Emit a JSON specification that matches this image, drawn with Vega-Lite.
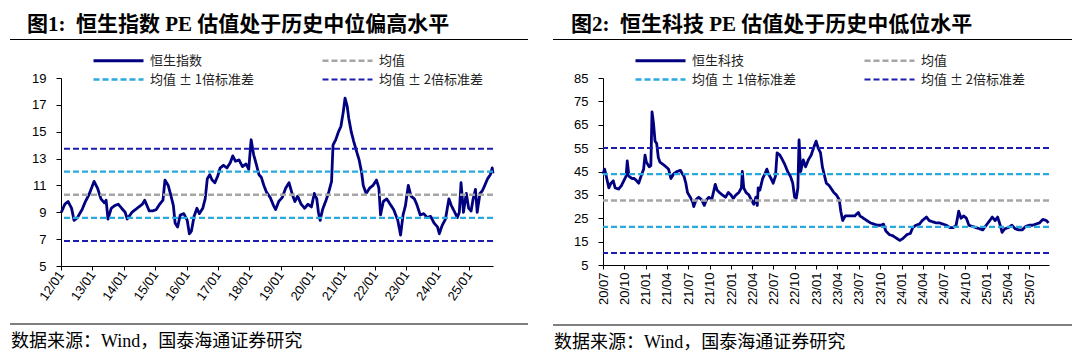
{
  "$schema": "https://vega.github.io/schema/vega-lite/v6.json",
  "background": "white",
  "padding": {"left": 9, "top": 14, "right": 2, "bottom": 2},
  "spacing": 23,
  "resolve": {"scale": {"color": "independent", "strokeDash": "independent", "strokeWidth": "independent"}, "legend": {"color": "independent", "strokeDash": "independent", "strokeWidth": "independent"}},
  "config": {
    "view": {"stroke": null},
    "font": "Noto Sans CJK SC",
    "axis": {"domainColor": "#000", "tickColor": "#000", "labelColor": "#000", "labelFont": "Liberation Sans", "labelFontSize": 13, "grid": false, "domainWidth": 1, "tickWidth": 1, "labelOverlap": false},
    "legend": {"orient": "none", "direction": "horizontal", "legendX": 51, "legendY": -24, "columns": 2, "columnPadding": 62, "rowPadding": 5, "symbolType": "M-5,0H5", "symbolSize": 100, "labelFontSize": 13, "labelFont": "Noto Sans CJK SC", "labelColor": "#222", "labelOffset": 25}
  },
  "datasets": {
    "hsi": [
      {"d":"2012-01-05","v":9.0},{"d":"2012-02-14","v":9.6},{"d":"2012-03-24","v":9.8},{"d":"2012-05-03","v":9.3},{"d":"2012-06-01","v":8.4},{"d":"2012-07-10","v":8.6},{"d":"2012-09-02","v":9.2},{"d":"2012-10-11","v":9.8},{"d":"2012-11-21","v":10.3},{"d":"2013-01-20","v":11.3},{"d":"2013-03-01","v":10.8},{"d":"2013-04-10","v":10.0},{"d":"2013-05-20","v":9.7},{"d":"2013-06-09","v":9.9},{"d":"2013-07-01","v":8.5},{"d":"2013-08-08","v":9.3},{"d":"2013-09-18","v":9.5},{"d":"2013-10-28","v":9.6},{"d":"2013-12-07","v":9.3},{"d":"2014-01-17","v":9.0},{"d":"2014-02-10","v":8.5},{"d":"2014-04-06","v":9.0},{"d":"2014-05-16","v":9.2},{"d":"2014-06-25","v":9.4},{"d":"2014-08-05","v":9.6},{"d":"2014-09-01","v":9.9},{"d":"2014-10-24","v":9.1},{"d":"2014-12-03","v":9.1},{"d":"2015-01-13","v":9.2},{"d":"2015-02-22","v":9.6},{"d":"2015-04-02","v":9.9},{"d":"2015-04-25","v":11.4},{"d":"2015-06-02","v":11.0},{"d":"2015-07-01","v":10.3},{"d":"2015-08-01","v":9.5},{"d":"2015-08-21","v":8.2},{"d":"2015-09-19","v":7.9},{"d":"2015-10-20","v":8.8},{"d":"2015-11-30","v":8.9},{"d":"2016-01-09","v":8.4},{"d":"2016-02-03","v":7.4},{"d":"2016-02-27","v":7.6},{"d":"2016-03-29","v":8.7},{"d":"2016-05-01","v":9.3},{"d":"2016-05-29","v":8.9},{"d":"2016-07-08","v":9.3},{"d":"2016-08-05","v":10.0},{"d":"2016-08-30","v":11.5},{"d":"2016-09-27","v":11.8},{"d":"2016-10-25","v":11.4},{"d":"2016-11-26","v":11.2},{"d":"2016-12-29","v":11.7},{"d":"2017-01-26","v":12.3},{"d":"2017-03-06","v":12.5},{"d":"2017-04-15","v":12.3},{"d":"2017-05-25","v":12.7},{"d":"2017-06-22","v":13.2},{"d":"2017-07-24","v":12.8},{"d":"2017-09-03","v":12.9},{"d":"2017-10-13","v":12.4},{"d":"2017-11-23","v":12.6},{"d":"2017-12-25","v":12.2},{"d":"2018-01-22","v":14.4},{"d":"2018-02-20","v":13.3},{"d":"2018-03-22","v":12.6},{"d":"2018-04-23","v":11.8},{"d":"2018-05-21","v":11.6},{"d":"2018-06-19","v":11.0},{"d":"2018-07-20","v":10.5},{"d":"2018-09-01","v":10.1},{"d":"2018-10-10","v":9.5},{"d":"2018-11-03","v":9.2},{"d":"2018-12-09","v":9.8},{"d":"2019-01-19","v":10.1},{"d":"2019-02-28","v":10.8},{"d":"2019-04-08","v":11.2},{"d":"2019-05-18","v":10.3},{"d":"2019-06-15","v":9.8},{"d":"2019-07-17","v":10.2},{"d":"2019-08-27","v":9.6},{"d":"2019-10-06","v":9.3},{"d":"2019-11-15","v":9.6},{"d":"2019-12-25","v":9.4},{"d":"2020-01-27","v":10.4},{"d":"2020-02-25","v":10.0},{"d":"2020-03-15","v":9.0},{"d":"2020-04-04","v":8.4},{"d":"2020-05-02","v":9.2},{"d":"2020-06-12","v":9.9},{"d":"2020-07-13","v":10.5},{"d":"2020-08-15","v":11.3},{"d":"2020-09-01","v":14.0},{"d":"2020-10-02","v":14.4},{"d":"2020-11-04","v":15.0},{"d":"2020-12-02","v":15.4},{"d":"2020-12-30","v":16.5},{"d":"2021-01-19","v":17.5},{"d":"2021-02-13","v":16.9},{"d":"2021-03-03","v":16.0},{"d":"2021-04-01","v":15.0},{"d":"2021-04-29","v":14.3},{"d":"2021-05-30","v":13.6},{"d":"2021-07-02","v":12.9},{"d":"2021-07-30","v":12.0},{"d":"2021-08-19","v":11.0},{"d":"2021-09-21","v":10.4},{"d":"2021-11-01","v":10.8},{"d":"2021-12-10","v":11.0},{"d":"2022-01-20","v":11.4},{"d":"2022-02-17","v":10.8},{"d":"2022-03-08","v":8.8},{"d":"2022-04-09","v":9.8},{"d":"2022-05-19","v":10.0},{"d":"2022-06-28","v":9.6},{"d":"2022-08-08","v":9.2},{"d":"2022-09-25","v":8.4},{"d":"2022-10-27","v":7.3},{"d":"2022-11-25","v":8.8},{"d":"2022-12-23","v":9.5},{"d":"2023-01-25","v":11.0},{"d":"2023-02-26","v":10.2},{"d":"2023-04-06","v":10.0},{"d":"2023-05-03","v":9.6},{"d":"2023-06-13","v":8.8},{"d":"2023-07-23","v":8.9},{"d":"2023-09-02","v":8.6},{"d":"2023-10-12","v":8.7},{"d":"2023-11-21","v":8.2},{"d":"2024-01-01","v":7.9},{"d":"2024-01-21","v":7.4},{"d":"2024-02-22","v":8.0},{"d":"2024-04-02","v":8.5},{"d":"2024-05-12","v":10.0},{"d":"2024-06-09","v":9.5},{"d":"2024-07-19","v":9.0},{"d":"2024-08-17","v":8.6},{"d":"2024-09-10","v":9.0},{"d":"2024-09-30","v":11.2},{"d":"2024-10-28","v":9.0},{"d":"2024-11-30","v":10.4},{"d":"2024-12-28","v":9.3},{"d":"2025-01-25","v":9.1},{"d":"2025-02-18","v":10.0},{"d":"2025-03-17","v":10.7},{"d":"2025-04-06","v":9.0},{"d":"2025-05-08","v":10.4},{"d":"2025-06-05","v":10.6},{"d":"2025-07-03","v":11.0},{"d":"2025-08-05","v":11.5},{"d":"2025-09-06","v":11.8},{"d":"2025-09-28","v":12.3},{"d":"2025-10-06","v":11.9}
    ],
    "hsiRefs": [
      {"series":"均值","v":10.30},{"series":"均值 ± 1倍标准差","v":12.02},{"series":"均值 ± 1倍标准差","v":8.58},{"series":"均值 ± 2倍标准差","v":13.74},{"series":"均值 ± 2倍标准差","v":6.86}
    ],
    "tech": [
      {"d":"2020-07-01","v":44},{"d":"2020-07-08","v":46},{"d":"2020-07-15","v":43},{"d":"2020-07-26","v":38},{"d":"2020-08-04","v":40},{"d":"2020-08-14","v":41},{"d":"2020-08-22","v":38},{"d":"2020-09-06","v":37.5},{"d":"2020-09-18","v":39},{"d":"2020-09-28","v":41},{"d":"2020-10-08","v":43},{"d":"2020-10-13","v":49.5},{"d":"2020-10-20","v":43},{"d":"2020-11-02","v":42},{"d":"2020-11-12","v":42},{"d":"2020-11-22","v":41},{"d":"2020-12-01","v":40},{"d":"2020-12-11","v":43},{"d":"2020-12-22","v":46},{"d":"2020-12-28","v":52},{"d":"2021-01-03","v":49},{"d":"2021-01-15","v":47},{"d":"2021-01-22","v":47.5},{"d":"2021-01-27","v":70.5},{"d":"2021-02-02","v":66},{"d":"2021-02-09","v":58},{"d":"2021-02-16","v":57},{"d":"2021-02-23","v":51},{"d":"2021-03-02","v":49},{"d":"2021-03-16","v":48},{"d":"2021-03-28","v":47},{"d":"2021-04-08","v":46},{"d":"2021-04-18","v":42},{"d":"2021-04-30","v":44},{"d":"2021-05-14","v":45},{"d":"2021-05-29","v":45.5},{"d":"2021-06-06","v":44},{"d":"2021-06-13","v":43},{"d":"2021-06-21","v":40},{"d":"2021-06-28","v":36},{"d":"2021-07-10","v":34},{"d":"2021-07-20","v":32},{"d":"2021-07-25","v":30},{"d":"2021-08-04","v":33},{"d":"2021-08-15","v":34},{"d":"2021-08-27","v":33},{"d":"2021-09-08","v":30.5},{"d":"2021-09-18","v":33},{"d":"2021-09-28","v":34},{"d":"2021-10-10","v":33},{"d":"2021-10-17","v":36},{"d":"2021-10-25","v":39.5},{"d":"2021-11-02","v":37},{"d":"2021-11-12","v":36},{"d":"2021-11-24","v":35},{"d":"2021-12-08","v":34},{"d":"2021-12-20","v":36},{"d":"2021-12-31","v":35},{"d":"2022-01-10","v":33.5},{"d":"2022-01-22","v":35},{"d":"2022-02-03","v":36},{"d":"2022-02-14","v":38},{"d":"2022-02-18","v":45},{"d":"2022-02-24","v":38},{"d":"2022-03-06","v":36},{"d":"2022-03-18","v":35},{"d":"2022-03-28","v":33},{"d":"2022-04-08","v":31},{"d":"2022-04-17","v":34},{"d":"2022-04-23","v":30.5},{"d":"2022-04-27","v":38},{"d":"2022-05-04","v":37},{"d":"2022-05-16","v":42},{"d":"2022-05-26","v":44},{"d":"2022-06-03","v":46},{"d":"2022-06-10","v":44},{"d":"2022-06-21","v":42},{"d":"2022-06-30","v":40},{"d":"2022-07-10","v":43},{"d":"2022-07-17","v":53},{"d":"2022-07-29","v":52},{"d":"2022-08-09","v":50},{"d":"2022-08-19","v":48},{"d":"2022-08-31","v":45},{"d":"2022-09-12","v":43},{"d":"2022-09-22","v":40},{"d":"2022-09-30","v":34},{"d":"2022-10-07","v":33.5},{"d":"2022-10-14","v":38},{"d":"2022-10-19","v":58.5},{"d":"2022-10-26","v":45},{"d":"2022-11-06","v":50},{"d":"2022-11-16","v":47},{"d":"2022-11-28","v":50},{"d":"2022-12-10","v":52},{"d":"2022-12-20","v":55},{"d":"2022-12-31","v":58},{"d":"2023-01-09","v":55},{"d":"2023-01-19","v":53},{"d":"2023-01-27","v":47},{"d":"2023-02-03","v":44},{"d":"2023-02-13","v":40},{"d":"2023-02-25","v":39},{"d":"2023-03-07","v":37.5},{"d":"2023-03-17","v":36},{"d":"2023-03-28","v":35},{"d":"2023-04-09","v":33},{"d":"2023-04-16","v":28},{"d":"2023-04-24","v":24},{"d":"2023-05-05","v":26},{"d":"2023-05-16","v":26},{"d":"2023-05-31","v":26},{"d":"2023-06-15","v":26},{"d":"2023-06-30","v":27.5},{"d":"2023-07-07","v":26},{"d":"2023-07-22","v":25},{"d":"2023-08-06","v":24},{"d":"2023-08-21","v":23},{"d":"2023-09-05","v":22.5},{"d":"2023-09-19","v":22},{"d":"2023-10-04","v":22},{"d":"2023-10-16","v":22.5},{"d":"2023-10-26","v":19.5},{"d":"2023-11-10","v":18},{"d":"2023-11-25","v":17.5},{"d":"2023-12-10","v":16.5},{"d":"2023-12-25","v":15.5},{"d":"2024-01-09","v":16.5},{"d":"2024-01-24","v":18},{"d":"2024-02-08","v":18.5},{"d":"2024-02-18","v":21},{"d":"2024-03-03","v":22},{"d":"2024-03-18","v":22.5},{"d":"2024-03-30","v":24},{"d":"2024-04-17","v":25.5},{"d":"2024-04-29","v":24},{"d":"2024-05-13","v":23.5},{"d":"2024-05-28","v":23},{"d":"2024-06-12","v":23},{"d":"2024-06-27","v":22.5},{"d":"2024-07-11","v":22},{"d":"2024-07-26","v":21},{"d":"2024-08-10","v":21},{"d":"2024-08-22","v":22},{"d":"2024-09-02","v":28},{"d":"2024-09-12","v":25},{"d":"2024-09-24","v":26},{"d":"2024-10-05","v":25},{"d":"2024-10-16","v":22},{"d":"2024-10-31","v":21.5},{"d":"2024-11-15","v":21},{"d":"2024-11-30","v":20.5},{"d":"2024-12-14","v":20},{"d":"2024-12-29","v":22},{"d":"2025-01-13","v":24},{"d":"2025-01-24","v":25.5},{"d":"2025-02-05","v":24},{"d":"2025-02-16","v":25.5},{"d":"2025-02-27","v":22},{"d":"2025-03-07","v":19},{"d":"2025-03-19","v":20.5},{"d":"2025-04-03","v":21},{"d":"2025-04-18","v":22},{"d":"2025-05-02","v":20.5},{"d":"2025-05-17","v":20},{"d":"2025-06-01","v":20},{"d":"2025-06-16","v":21.5},{"d":"2025-07-01","v":22},{"d":"2025-07-15","v":22},{"d":"2025-07-30","v":22.5},{"d":"2025-08-14","v":23},{"d":"2025-08-29","v":24.5},{"d":"2025-09-13","v":24},{"d":"2025-09-22","v":23}
    ],
    "techRefs": [
      {"series":"均值","v":32.6},{"series":"均值 ± 1倍标准差","v":43.85},{"series":"均值 ± 1倍标准差","v":21.35},{"series":"均值 ± 2倍标准差","v":55.1},{"series":"均值 ± 2倍标准差","v":10.1}
    ],
    "sepL": [{"a": -51, "b": 467}],
    "sepR": [{"a": -50, "b": 469}]
  },
  "hconcat": [
    {
      "spacing": 14,
      "resolve": {"scale": {"color": "independent", "strokeDash": "independent", "strokeWidth": "independent"}, "legend": {"color": "independent", "strokeDash": "independent", "strokeWidth": "independent"}},
      "vconcat": [
        {
          "title": {"text": "图1:\u00a0\u00a0恒生指数 PE 估值处于历史中位偏高水平", "frame": "group", "anchor": "start", "font": "Liberation Serif, Noto Sans CJK SC", "fontSize": 21, "fontWeight": "bold", "color": "#000", "offset": 4, "dx": -34},
          "width": 467, "height": 1,
          "data": {"name": "sepL"},
          "mark": {"type": "rule", "color": "#000", "strokeWidth": 1},
          "encoding": {
            "x": {"field": "a", "type": "quantitative", "axis": null, "scale": {"domain": [0, 467], "nice": false, "zero": false}},
            "x2": {"field": "b"}
          }
        },
        {
          "width": 432, "height": 188,
          "layer": [
            {
              "data": {"name": "hsi"},
              "mark": {"type": "line", "strokeJoin": "round"},
              "encoding": {
                "x": {"field": "d", "type": "temporal", "scale": {"type": "utc", "domain": [{"year": 2012, "month": 1, "date": 1, "utc": true}, {"year": 2025, "month": 10, "date": 7, "utc": true}]},
                  "axis": {"title": null, "format": "%y/%m", "labelAngle": -55, "tickSize": 4, "labelPadding": 2, "values": [
                    {"year": 2012, "month": 1, "date": 1, "utc": true},{"year": 2013, "month": 1, "date": 1, "utc": true},{"year": 2014, "month": 1, "date": 1, "utc": true},{"year": 2015, "month": 1, "date": 1, "utc": true},{"year": 2016, "month": 1, "date": 1, "utc": true},{"year": 2017, "month": 1, "date": 1, "utc": true},{"year": 2018, "month": 1, "date": 1, "utc": true},{"year": 2019, "month": 1, "date": 1, "utc": true},{"year": 2020, "month": 1, "date": 1, "utc": true},{"year": 2021, "month": 1, "date": 1, "utc": true},{"year": 2022, "month": 1, "date": 1, "utc": true},{"year": 2023, "month": 1, "date": 1, "utc": true},{"year": 2024, "month": 1, "date": 1, "utc": true},{"year": 2025, "month": 1, "date": 1, "utc": true}]}},
                "y": {"field": "v", "type": "quantitative", "scale": {"domain": [5, 19], "nice": false, "zero": false},
                  "axis": {"title": null, "values": [5, 7, 9, 11, 13, 15, 17, 19], "labelOverlap": false, "tickSize": 5, "labelPadding": 10, "minExtent": 51, "maxExtent": 200}},
                "color": {"datum": "恒生指数", "scale": {"domain": ["恒生指数", "均值", "均值 ± 1倍标准差", "均值 ± 2倍标准差"], "range": ["#000080", "#a6a6a6", "#2aa9de", "#1c1cae"]}, "legend": {"title": null}},
                "strokeDash": {"datum": "恒生指数", "scale": {"domain": ["恒生指数", "均值", "均值 ± 1倍标准差", "均值 ± 2倍标准差"], "range": [[1, 0], [6, 3], [6, 3], [6, 3]]}, "legend": {"title": null}},
                "strokeWidth": {"datum": "恒生指数", "scale": {"domain": ["恒生指数", "均值", "均值 ± 1倍标准差", "均值 ± 2倍标准差"], "range": [2.8, 2, 2, 2]}, "legend": {"title": null}}
              }
            },
            {
              "data": {"name": "hsiRefs"},
              "mark": {"type": "rule"},
              "encoding": {
                "y": {"field": "v", "type": "quantitative", "axis": {"title": null, "values": [5, 7, 9, 11, 13, 15, 17, 19], "labelOverlap": false, "tickSize": 5, "labelPadding": 10, "minExtent": 51, "maxExtent": 200}},
                "color": {"field": "series", "type": "nominal", "legend": {"title": null}},
                "strokeDash": {"field": "series", "type": "nominal", "legend": {"title": null}},
                "strokeWidth": {"field": "series", "type": "nominal", "legend": {"title": null}}
              }
            }
          ]
        },
        {
          "title": {"text": "数据来源：Wind，国泰海通证券研究", "frame": "group", "orient": "bottom", "anchor": "start", "font": "Liberation Serif, Noto Sans CJK SC", "fontSize": 18, "fontWeight": "normal", "color": "#000", "offset": 8, "dx": -50},
          "width": 467, "height": 7,
          "data": {"name": "sepL"},
          "mark": {"type": "rule", "color": "#000", "strokeWidth": 1},
          "encoding": {
            "x": {"field": "a", "type": "quantitative", "axis": null, "scale": {"domain": [0, 467], "nice": false, "zero": false}},
            "x2": {"field": "b"},
            "y": {"datum": 0, "type": "quantitative", "axis": null, "scale": {"domain": [0, 1]}}
          }
        }
      ]
    },
    {
      "spacing": 14,
      "resolve": {"scale": {"color": "independent", "strokeDash": "independent", "strokeWidth": "independent"}, "legend": {"color": "independent", "strokeDash": "independent", "strokeWidth": "independent"}},
      "vconcat": [
        {
          "title": {"text": "图2:\u00a0\u00a0恒生科技 PE 估值处于历史中低位水平", "frame": "group", "anchor": "start", "font": "Liberation Serif, Noto Sans CJK SC", "fontSize": 21, "fontWeight": "bold", "color": "#000", "offset": 4, "dx": -32},
          "width": 469, "height": 1,
          "data": {"name": "sepR"},
          "mark": {"type": "rule", "color": "#000", "strokeWidth": 1},
          "encoding": {
            "x": {"field": "a", "type": "quantitative", "axis": null, "scale": {"domain": [0, 469], "nice": false, "zero": false}},
            "x2": {"field": "b"}
          }
        },
        {
          "width": 446, "height": 187,
          "layer": [
            {
              "data": {"name": "tech"},
              "mark": {"type": "line", "strokeJoin": "round"},
              "encoding": {
                "x": {"field": "d", "type": "temporal", "scale": {"type": "utc", "domain": [{"year": 2020, "month": 7, "date": 1, "utc": true}, {"year": 2025, "month": 9, "date": 24, "utc": true}]},
                  "axis": {"title": null, "format": "%y/%m", "labelAngle": -90, "tickSize": 4, "labelPadding": 3, "values": [
                    {"year": 2020, "month": 7, "date": 1, "utc": true},{"year": 2020, "month": 10, "date": 1, "utc": true},{"year": 2021, "month": 1, "date": 1, "utc": true},{"year": 2021, "month": 4, "date": 1, "utc": true},{"year": 2021, "month": 7, "date": 1, "utc": true},{"year": 2021, "month": 10, "date": 1, "utc": true},{"year": 2022, "month": 1, "date": 1, "utc": true},{"year": 2022, "month": 4, "date": 1, "utc": true},{"year": 2022, "month": 7, "date": 1, "utc": true},{"year": 2022, "month": 10, "date": 1, "utc": true},{"year": 2023, "month": 1, "date": 1, "utc": true},{"year": 2023, "month": 4, "date": 1, "utc": true},{"year": 2023, "month": 7, "date": 1, "utc": true},{"year": 2023, "month": 10, "date": 1, "utc": true},{"year": 2024, "month": 1, "date": 1, "utc": true},{"year": 2024, "month": 4, "date": 1, "utc": true},{"year": 2024, "month": 7, "date": 1, "utc": true},{"year": 2024, "month": 10, "date": 1, "utc": true},{"year": 2025, "month": 1, "date": 1, "utc": true},{"year": 2025, "month": 4, "date": 1, "utc": true},{"year": 2025, "month": 7, "date": 1, "utc": true}]}},
                "y": {"field": "v", "type": "quantitative", "scale": {"domain": [5, 85], "nice": false, "zero": false},
                  "axis": {"title": null, "values": [5, 15, 25, 35, 45, 55, 65, 75, 85], "labelOverlap": false, "tickSize": 5, "labelPadding": 10, "minExtent": 50, "maxExtent": 200}},
                "color": {"datum": "恒生科技", "scale": {"domain": ["恒生科技", "均值", "均值 ± 1倍标准差", "均值 ± 2倍标准差"], "range": ["#000080", "#a6a6a6", "#2aa9de", "#1c1cae"]}, "legend": {"title": null}},
                "strokeDash": {"datum": "恒生科技", "scale": {"domain": ["恒生科技", "均值", "均值 ± 1倍标准差", "均值 ± 2倍标准差"], "range": [[1, 0], [6, 3], [6, 3], [6, 3]]}, "legend": {"title": null}},
                "strokeWidth": {"datum": "恒生科技", "scale": {"domain": ["恒生科技", "均值", "均值 ± 1倍标准差", "均值 ± 2倍标准差"], "range": [2.8, 2, 2, 2]}, "legend": {"title": null}}
              }
            },
            {
              "data": {"name": "techRefs"},
              "mark": {"type": "rule"},
              "encoding": {
                "y": {"field": "v", "type": "quantitative", "axis": {"title": null, "values": [5, 15, 25, 35, 45, 55, 65, 75, 85], "labelOverlap": false, "tickSize": 5, "labelPadding": 10, "minExtent": 50, "maxExtent": 200}},
                "color": {"field": "series", "type": "nominal", "legend": {"title": null}},
                "strokeDash": {"field": "series", "type": "nominal", "legend": {"title": null}},
                "strokeWidth": {"field": "series", "type": "nominal", "legend": {"title": null}}
              }
            }
          ]
        },
        {
          "title": {"text": "数据来源：Wind，国泰海通证券研究", "frame": "group", "orient": "bottom", "anchor": "start", "font": "Liberation Serif, Noto Sans CJK SC", "fontSize": 18, "fontWeight": "normal", "color": "#000", "offset": 8, "dx": -49},
          "width": 469, "height": 6,
          "data": {"name": "sepR"},
          "mark": {"type": "rule", "color": "#000", "strokeWidth": 1},
          "encoding": {
            "x": {"field": "a", "type": "quantitative", "axis": null, "scale": {"domain": [0, 469], "nice": false, "zero": false}},
            "x2": {"field": "b"},
            "y": {"datum": 0, "type": "quantitative", "axis": null, "scale": {"domain": [0, 1]}}
          }
        }
      ]
    }
  ]
}
